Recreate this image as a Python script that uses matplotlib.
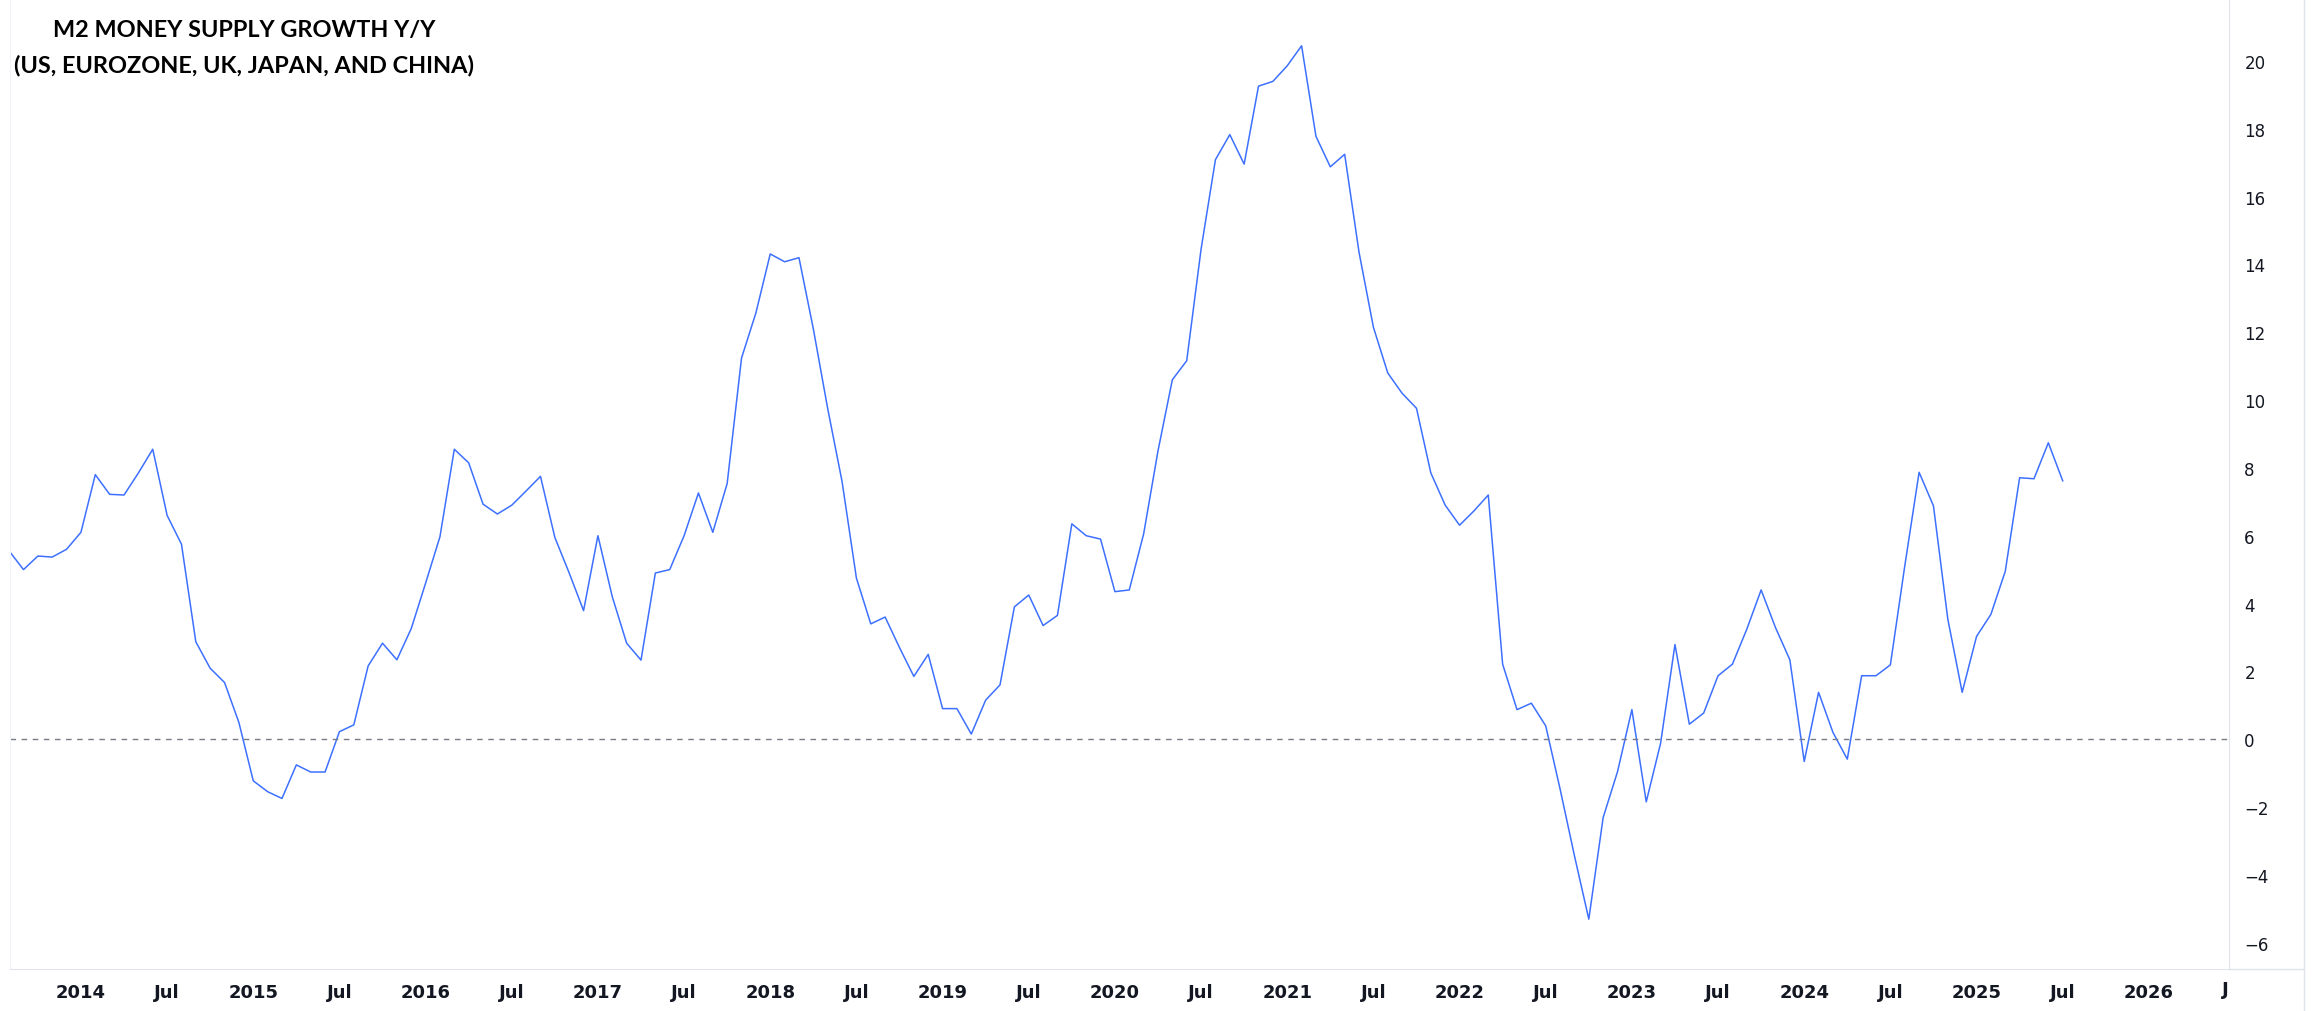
import numpy as np
import pandas as pd
import matplotlib
matplotlib.use("Agg")
import matplotlib.pyplot as plt
from matplotlib.lines import Line2D
from matplotlib.transforms import Bbox, TransformedBbox, blended_transform_factory

# monthly M2 growth y/y (%), Aug 2013 .. Jul 2025
start = "2013-08"
end = "2025-07"
growth = [
    5.55, 5.0, 5.4, 5.37, 5.6,                                       # 2013 Aug-Dec
    6.1, 7.8, 7.22, 7.2, 7.85, 8.55, 6.6, 5.75, 2.87, 2.09, 1.67, 0.49,  # 2014
    -1.23, -1.55, -1.75, -0.76, -0.97, -0.97, 0.22, 0.42, 2.16, 2.83, 2.34, 3.26,  # 2015
    4.6, 5.97, 8.55, 8.15, 6.93, 6.64, 6.9, 7.32, 7.75, 5.95, 4.9, 3.79,  # 2016
    6.0, 4.2, 2.83, 2.33, 4.9, 5.0, 6.0, 7.26, 6.1, 7.54, 11.24, 12.57,  # 2017
    14.31, 14.08, 14.2, 12.1, 9.75, 7.6, 4.75, 3.4, 3.6, 2.7, 1.85, 2.5,  # 2018
    0.9, 0.9, 0.15, 1.15, 1.6, 3.9, 4.25, 3.35, 3.65, 6.35, 6.0, 5.9,  # 2019
    4.35, 4.4, 6.05, 8.5, 10.6, 11.16, 14.45, 17.09, 17.83, 16.96, 19.26, 19.4,  # 2020
    19.86, 20.45, 17.78, 16.88, 17.25, 14.36, 12.15, 10.8, 10.2, 9.76, 7.85, 6.9,  # 2021
    6.31, 6.73, 7.2, 2.21, 0.87, 1.06, 0.39, -1.47, -3.44, -5.31, -2.31, -0.96,  # 2022
    0.87, -1.85, -0.12, 2.79, 0.44, 0.77, 1.87, 2.21, 3.24, 4.4, 3.29, 2.34,  # 2023
    -0.66, 1.38, 0.2, -0.59, 1.87, 1.87, 2.19, 5.1, 7.87, 6.88, 3.54, 1.38,  # 2024
    3.03, 3.68, 4.95, 7.71, 7.68, 8.74, 7.62,                        # 2025
]
title1 = "M2 MONEY SUPPLY GROWTH Y/Y"
title2 = "(US, EUROZONE, UK, JAPAN, AND CHINA)"
y_ticks = [-6, -4, -2, 0, 2, 4, 6, 8, 10, 12, 14, 16, 18, 20]

months = pd.period_range(start, end, freq="M")
x = np.array([(p.year - 2014) * 12 + p.month - 1 for p in months])
tick_periods = pd.period_range("2014-01", "2026-01", freq="6M")
xt = [(p.year - 2014) * 12 + p.month - 1 for p in tick_periods]
xt_labels = [str(p.year) if p.month == 1 else "Jul" for p in tick_periods]

W, H = 2315, 1012
fig = plt.figure(figsize=(W / 100, H / 100), dpi=100)
fig.patch.set_facecolor("white")
ax = fig.add_axes([10 / W, 1 - 970 / H, 2219 / W, 970 / H])

ax.plot(x, growth, color="#3d70ff", lw=1.1)
ax.axhline(0, color="#787b86", lw=1.0, ls=(0, (4, 4)))

ax.set_xlim(-4.94, 149.58)
ax.set_ylim(-6.78, 21.83)

ax.yaxis.tick_right()
ax.set_yticks(y_ticks)
ax.set_yticklabels([str(v).replace("-", "\u2212") for v in y_ticks])
ax.set_xticks(xt)
ax.set_xticklabels(xt_labels)
ax.tick_params(axis="y", length=0, pad=11, labelsize=12, labelcolor="#131722")
ax.tick_params(axis="x", length=0, pad=10, labelsize=13, labelcolor="#131722")
for lab in ax.get_xticklabels():
    lab.set_fontweight("bold")

ax.spines["top"].set_visible(False)
ax.spines["left"].set_color("#f0f3fa")
ax.spines["right"].set_color("#e0e3eb")
ax.spines["bottom"].set_color("#e0e3eb")

# half-hidden "Jul" 2026 label cut by the price scale
trans = blended_transform_factory(ax.transData, ax.transAxes)
cut = ax.text(150, -20 / 970, "Jul", transform=trans, ha="center", va="center",
              fontsize=13, fontweight="bold", color="#131722", clip_on=True)
cut.set_clip_box(TransformedBbox(Bbox([[0, 0], [2229 / W, 1]]), fig.transFigure))

# price-scale frame
fig.add_artist(Line2D([2229 / W, 2304 / W], [1 - 970 / H] * 2, color="#e0e3eb", lw=1.0,
                      transform=fig.transFigure))
fig.add_artist(Line2D([2304 / W] * 2, [0, 1], color="#e0e3eb", lw=1.0,
                      transform=fig.transFigure))

# title, sized so the second line spans the same width as in the chart
t1 = fig.text(244 / W, 1 - 30 / H, title1, ha="center", va="center",
              fontsize=20, fontweight="bold", family="Lato", color="black")
t2 = fig.text(244 / W, 1 - 66 / H, title2, ha="center", va="center",
              fontsize=20, fontweight="bold", family="Lato", color="black")
fig.canvas.draw()
w2 = t2.get_window_extent().width
fs = 20 * 459 / w2
t1.set_fontsize(fs)
t2.set_fontsize(fs)

fig.savefig("out.png", dpi=100, facecolor="white")
